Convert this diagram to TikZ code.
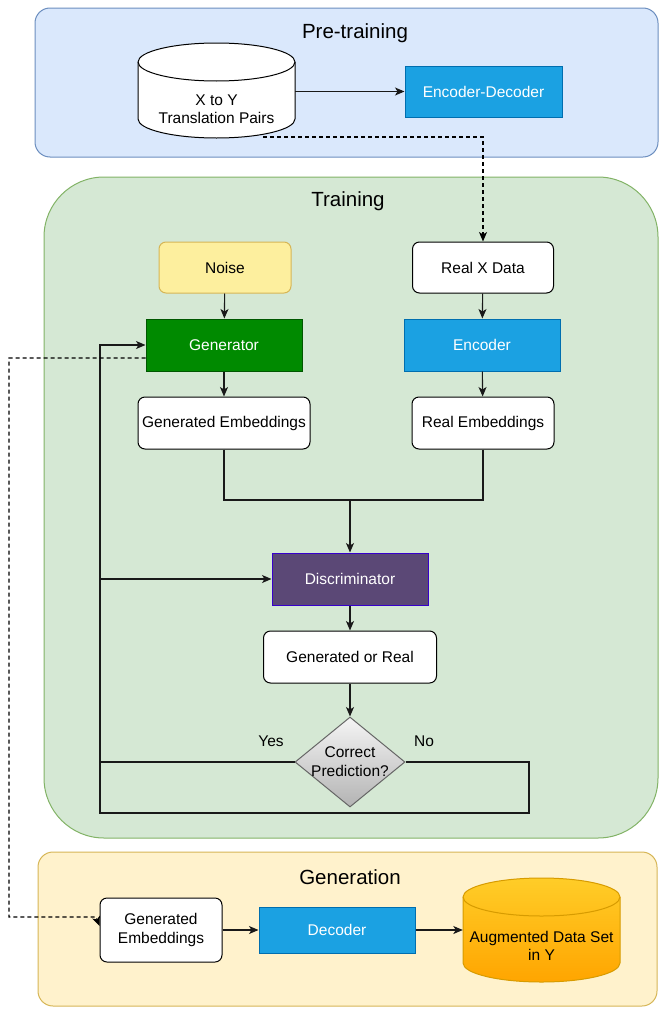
\documentclass[tikz,border=0pt]{standalone}
\usepackage{fontspec}
\setmainfont{Liberation Sans}
\usetikzlibrary{arrows.meta,shapes.geometric,calc}
\definecolor{preF}{HTML}{DAE8FC}\definecolor{preD}{HTML}{6C8EBF}
\definecolor{trF}{HTML}{D5E8D4}\definecolor{trD}{HTML}{82B366}
\definecolor{geF}{HTML}{FFF2CC}\definecolor{geD}{HTML}{D6B656}
\definecolor{noiseF}{HTML}{FDEF9E}
\definecolor{blueF}{HTML}{1BA1E2}\definecolor{blueD}{HTML}{006EAF}
\definecolor{greenF}{HTML}{008A00}\definecolor{greenD}{HTML}{005700}
\definecolor{purpF}{HTML}{5B4876}\definecolor{purpD}{HTML}{3700CC}
\definecolor{grayT}{HTML}{F5F5F5}\definecolor{grayB}{HTML}{B3B3B3}\definecolor{grayD}{HTML}{666666}
\definecolor{orT}{HTML}{FFCD28}\definecolor{orB}{HTML}{FFA500}\definecolor{orD}{HTML}{D79B00}
\begin{document}
\begin{tikzpicture}[x=1pt,y=-1pt,
  every node/.style={font=\fontsize{15.5}{18.5}\selectfont, inner sep=0pt, align=center},
  sz/.style 2 args={minimum width=#1pt, minimum height=#2pt},
  container/.style={line width=1pt},
  titletext/.style={font=\fontsize{20.5}{24}\selectfont},
  wbox/.style={draw=black, fill=white, rounded corners=7pt, line width=1pt},
  solid box/.style={line width=1pt, text=white},
  plain/.style={line width=1.1pt, draw=black!90},
  conn/.style={plain, -{Stealth[length=9.5pt,width=8pt,inset=2.5pt]}},
  dconn/.style={conn, draw=black, line width=1.1pt, dash pattern=on 4pt off 3pt},
  cylpath/.style={line width=1pt}
]
\useasboundingbox (0,0) rectangle (659,1009);

% containers
\node[container, draw=preD, fill=preF, rounded corners=15pt, sz={623}{149}] (pre) at (346.5,82.5) {};
\node[container, draw=trD, fill=trF, rounded corners=60pt, sz={614}{661}] (train) at (351,507.5) {};
\node[container, draw=geD, fill=geF, rounded corners=15pt, sz={619}{154}] (gener) at (347.5,929) {};
\node[titletext] (pret) at (355,33) {Pre-training};
\node[titletext] (trt) at (348,201) {Training};
\node[titletext] (get) at (350,877) {Generation};

% pre-training cylinder
\draw[cylpath, fill=white] (138,62) -- (138,119) arc[start angle=180,end angle=360,x radius=78.5pt,y radius=19pt] -- (295,62) arc[start angle=0,end angle=180,x radius=78.5pt,y radius=19pt] -- cycle;
\draw[cylpath] (138,62) arc[start angle=180,end angle=360,x radius=78.5pt,y radius=19pt];
\node[sz={157}{95}] (xy) at (216.5,91.5) {};
\node (xyt) at (216.5,109) {X to Y\\Translation Pairs};

\node[solid box, fill=blueF, draw=blueD, sz={157}{51}] (encdec) at (483.5,91.5) {Encoder-Decoder};

% training
\node[draw=geD, fill=noiseF, rounded corners=7pt, line width=1pt, sz={132}{51}] (noise) at (225,267.5) {Noise};
\node[wbox, sz={141}{51}] (realx) at (483,267.5) {Real X Data};
\node[solid box, fill=greenF, draw=greenD, sz={156}{52}] (gen) at (224,345) {Generator};
\node[solid box, fill=blueF, draw=blueD, sz={156}{52}] (enc) at (482,345) {Encoder};
\node[wbox, sz={172}{52}] (genemb) at (224,423) {Generated Embeddings};
\node[wbox, sz={142}{52}] (realemb) at (483,423) {Real Embeddings};
\coordinate (jn) at (350,500);
\node[solid box, fill=purpF, draw=purpD, sz={156}{52}] (disc) at (350,579) {Discriminator};
\node[wbox, sz={173}{52}] (gor) at (350,657) {Generated or Real};
\node[diamond, draw=grayD, top color=grayT, bottom color=grayB, line width=1pt, sz={110}{90}, aspect=1.22] (cp) at (350,762) {};
\node (cpt) at (350,761.5) {Correct\\Prediction?};
\node (yes) at (271,741) {Yes};
\node (no) at (424,741) {No};

% generation
\node[wbox, sz={122}{64}] (genemb2) at (161,930) {Generated\\Embeddings};
\node[solid box, fill=blueF, draw=blueD, sz={156}{46}] (dec) at (337,930) {Decoder};
\draw[cylpath, draw=orD, top color=orT, bottom color=orB] (463,897) -- (463,963) arc[start angle=180,end angle=360,x radius=78.5pt,y radius=19pt] -- (620,897) arc[start angle=0,end angle=180,x radius=78.5pt,y radius=19pt] -- cycle;
\draw[cylpath, draw=orD] (463,897) arc[start angle=180,end angle=360,x radius=78.5pt,y radius=19pt];
\node[sz={157}{104}] (aug) at (541.5,930) {};
\node (augt) at (541.5,946) {Augmented Data Set\\in Y};

% connectors
\draw[conn] (xy.east) -- (encdec.west);
\coordinate (xyb) at (263,137);
\draw[dconn] (xyb) -| (realx.north);
\draw[conn] (noise) -- (gen);
\draw[conn] (gen) -- (genemb);
\draw[conn] (realx) -- (enc);
\draw[conn] (enc) -- (realemb);
\draw[plain] (genemb.south) |- (jn);
\draw[plain] (realemb.south) |- (jn);
\draw[conn] (jn) -- (disc.north);
\draw[conn] (disc) -- (gor);
\draw[conn] (gor.south) -- (cp.north);
\coordinate (lt) at (100,345);
\coordinate (lb) at (100,813);
\coordinate (rb) at (529,813);
\draw[conn] (cp.west) -| (lt) -- (gen.west);
\draw[conn] (cp.east) -| (rb) -- (lb) -- (lb |- disc.west) -- (disc.west);
\coordinate (dl) at (9,917);
\coordinate (dl2) at (96,917);
\draw[dconn] ([yshift=-13pt]gen.west) -| (dl) -- (dl2) -- ([yshift=4pt]genemb2.west);
\draw[conn] (genemb2) -- (dec);
\draw[conn] (dec.east) -- (aug.west);
\end{tikzpicture}
\end{document}
